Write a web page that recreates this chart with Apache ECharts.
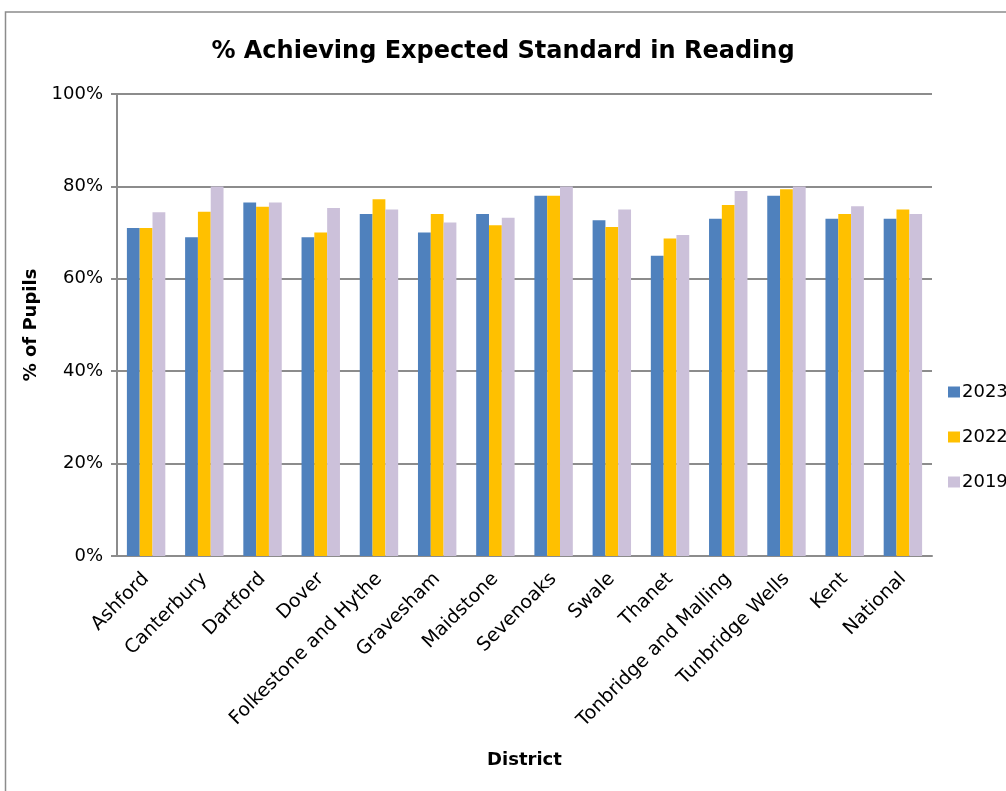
<!DOCTYPE html>
<html>
<head>
<meta charset="utf-8">
<script src="https://cdn.jsdelivr.net/npm/echarts@6/dist/echarts.min.js"></script>
<style>
  html, body { margin: 0; padding: 0; background: #fff; overflow: hidden; }
  #chart { width: 1006px; height: 791px; }
</style>
</head>
<body>
<div id="chart"></div>
<script>
// 数据
const districts = ['Ashford', 'Canterbury', 'Dartford', 'Dover', 'Folkestone and Hythe', 'Gravesham',
  'Maidstone', 'Sevenoaks', 'Swale', 'Thanet', 'Tonbridge and Malling', 'Tunbridge Wells', 'Kent', 'National'];
const values2023 = [71, 69, 76.5, 69, 74, 70, 74, 78, 72.7, 65, 73, 78, 73, 73];
const values2022 = [71, 74.5, 75.6, 70, 77.2, 74, 71.6, 78, 71.2, 68.7, 76, 79.4, 74, 75];
const values2019 = [74.4, 80, 76.5, 75.3, 75, 72.2, 73.2, 80, 75, 69.5, 79, 80, 75.7, 74];
const yTicks = [0, 20, 40, 60, 80, 100];

const font = 'Tahoma, "DejaVu Sans", sans-serif';
const chart = echarts.init(document.getElementById('chart'));

function barSeries(name, data, color) {
  return {
    name: name,
    type: 'bar',
    data: data,
    barGap: '0%',
    barCategoryGap: '34%',
    itemStyle: { color: color }
  };
}

chart.setOption({
  animation: false,
  textStyle: { fontFamily: font },
  title: {
    text: '% Achieving Expected Standard in Reading',
    left: 'center', top: 35,
    textStyle: { fontFamily: font, fontSize: 24, fontWeight: 'bold', color: '#000' }
  },
  graphic: [{
    type: 'rect',
    shape: { x: 5.5, y: 12, width: 1010, height: 800 },
    style: { fill: 'none', stroke: '#8c8c8c', lineWidth: 1.5 },
    silent: true
  }],
  legend: {
    orient: 'vertical',
    left: 943, top: 378,
    itemWidth: 12, itemHeight: 11,
    itemGap: 27,
    icon: 'rect',
    textStyle: { fontFamily: font, fontSize: 18, color: '#000', padding: [0, 0, 0, -3] },
    data: ['2023', '2022', '2019']
  },
  grid: { left: 117, right: 74, top: 94, bottom: 235 },
  xAxis: {
    type: 'category',
    data: districts,
    name: 'District',
    nameLocation: 'middle',
    nameGap: 195,
    nameTextStyle: { fontFamily: font, fontSize: 18, fontWeight: 'bold', color: '#000' },
    axisLine: { lineStyle: { color: '#8c8c8c', width: 2 } },
    axisTick: { length: 6, lineStyle: { color: '#8c8c8c', width: 2 } },
    axisLabel: { rotate: 45, interval: 0, fontSize: 19, color: '#000', margin: 20, fontFamily: font }
  },
  yAxis: {
    type: 'value',
    min: yTicks[0], max: yTicks[yTicks.length - 1], interval: 20,
    name: '% of Pupils',
    nameLocation: 'middle',
    nameGap: 72,
    nameTextStyle: { fontFamily: font, fontSize: 18, fontWeight: 'bold', color: '#000' },
    axisLine: { show: true, lineStyle: { color: '#8c8c8c', width: 2 } },
    axisTick: { show: true, length: 6, lineStyle: { color: '#8c8c8c', width: 2 } },
    axisLabel: { formatter: '{value}%', fontSize: 18, color: '#000', margin: 14, fontFamily: font },
    splitLine: { lineStyle: { color: '#8c8c8c', width: 2 } }
  },
  series: [
    barSeries('2023', values2023, '#4F81BD'),
    barSeries('2022', values2022, '#FFC000'),
    barSeries('2019', values2019, '#CCC1DA')
  ]
});
</script>
</body>
</html>
